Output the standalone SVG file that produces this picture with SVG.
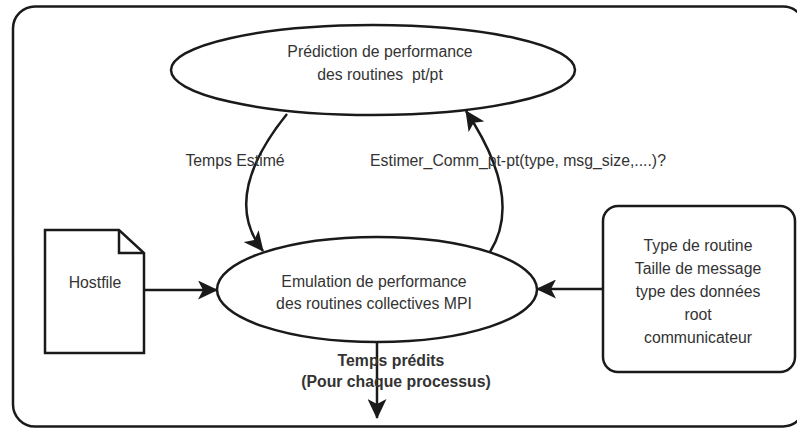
<svg xmlns="http://www.w3.org/2000/svg" width="797" height="428" viewBox="0 0 797 428">
<defs>
<style>
.s{fill:#fff;stroke:#1a1a1a;stroke-width:2.5}
.c{fill:none;stroke:#1a1a1a;stroke-width:2.5}
.t{font-family:"Liberation Sans",Arial,sans-serif;font-size:15.8px;fill:#333;text-anchor:middle}
.b{font-weight:bold}
</style>
<marker id="ah" viewBox="0 0 20 19" refX="19" refY="9.5" markerWidth="20" markerHeight="19" markerUnits="userSpaceOnUse" orient="auto">
<path d="M0,0 L20,9.5 L0,19 L5,9.5 z" fill="#1a1a1a"/>
</marker>
</defs>
<rect x="13" y="6.5" width="792" height="420" rx="22" fill="#fff" stroke="#1a1a1a" stroke-width="2.5"/>
<g id="prediction">
<ellipse class="s" cx="373" cy="70" rx="202" ry="45"/>
<text class="t" x="380" y="57">Prédiction de performance</text>
<text class="t" x="380" y="80" xml:space="preserve">des routines  pt/pt</text>
</g>
<g id="emulation">
<ellipse class="s" cx="377" cy="289.5" rx="160" ry="52.5"/>
<text class="t" x="374" y="287">Emulation de performance</text>
<text class="t" x="374" y="309">des routines collectives MPI</text>
</g>
<g id="hostfile">
<path class="s" d="M45,230 L119,230 L144,253 L144,353 L45,353 Z"/>
<path class="c" d="M119,230 L119,253 L144,253"/>
<text class="t" x="95" y="288">Hostfile</text>
</g>
<g id="params">
<rect class="s" x="603" y="206" width="192" height="166" rx="15"/>
<text class="t" x="698" y="251">Type de routine</text>
<text class="t" x="698" y="274">Taille de message</text>
<text class="t" x="698" y="297">type des données</text>
<text class="t" x="698" y="320">root</text>
<text class="t" x="698" y="343">communicateur</text>
</g>
<g id="connectors">
<path class="c" d="M287,114 Q220,197 263,251" marker-end="url(#ah)"/>
<path class="c" d="M490,252 Q524,198 466,111" marker-end="url(#ah)"/>
<path class="c" d="M144,290 L217,290" marker-end="url(#ah)"/>
<path class="c" d="M603,289 L537,289" marker-end="url(#ah)"/>
<path class="c" d="M377,342 L377,418" marker-end="url(#ah)"/>
<text class="t" x="235" y="166">Temps Estimé</text>
<text class="t" x="518" y="166">Estimer_Comm_pt-pt(type, msg_size,....)?</text>
<text class="t b" x="391" y="366">Temps prédits</text>
<text class="t b" x="396" y="387">(Pour chaque processus)</text>
</g>
</svg>
